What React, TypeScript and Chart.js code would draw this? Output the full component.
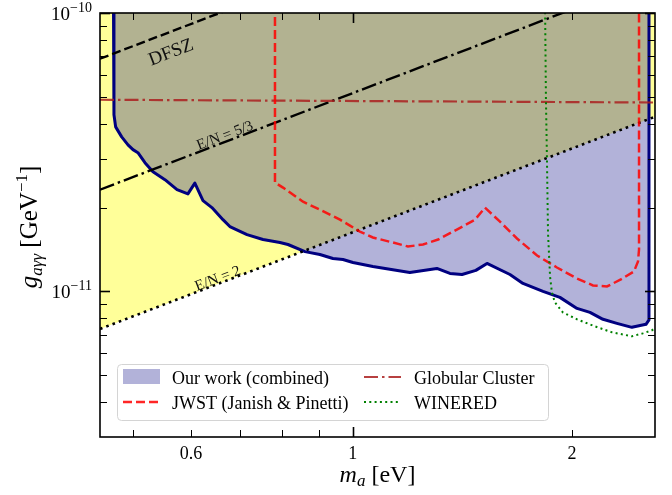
import { useEffect, useRef } from 'react';
import { Chart, registerables } from 'chart.js';
Chart.register(...registerables);

// ---------- data ----------
const X_MIN = 0.45;
const X_MAX = 2.6;
const Y_MIN = 3e-12;
const Y_MAX = 1e-10;

const ourWorkMass = [0.4695, 0.4703, 0.4728, 0.4819, 0.4916, 0.4994, 0.5073, 0.5187, 0.532, 0.5525, 0.574, 0.5941, 0.6073, 0.6231, 0.6409, 0.6637, 0.6783, 0.7161, 0.7532, 0.7947, 0.8151, 0.8601, 0.9017, 0.9396, 0.9698, 1.001, 1.066, 1.198, 1.305, 1.36, 1.413, 1.476, 1.529, 1.644, 1.713, 1.825, 1.925, 2.032, 2.117, 2.206, 2.305, 2.417, 2.527, 2.551, 2.551];
const ourWorkG = [1.2e-10, 4.31e-11, 3.9e-11, 3.59e-11, 3.36e-11, 3.23e-11, 3.15e-11, 2.9e-11, 2.69e-11, 2.52e-11, 2.32e-11, 2.24e-11, 2.45e-11, 2.12e-11, 2.0e-11, 1.81e-11, 1.71e-11, 1.6e-11, 1.536e-11, 1.498e-11, 1.474e-11, 1.39e-11, 1.357e-11, 1.313e-11, 1.302e-11, 1.27e-11, 1.229e-11, 1.17e-11, 1.209e-11, 1.16e-11, 1.15e-11, 1.19e-11, 1.26e-11, 1.15e-11, 1.068e-11, 1.0e-11, 9.52e-12, 8.69e-12, 8.41e-12, 7.94e-12, 7.68e-12, 7.43e-12, 7.62e-12, 7.9e-12, 1.2e-10];

const jwstMass = [0.7823, 0.7823, 0.8024, 0.8548, 0.9017, 0.9607, 0.9915, 1.023, 1.066, 1.136, 1.191, 1.249, 1.31, 1.39, 1.472, 1.519, 1.593, 1.681, 1.791, 1.907, 2.032, 2.137, 2.234, 2.334, 2.433, 2.464, 2.472, 2.472];
const jwstG = [1.2e-10, 2.46e-11, 2.36e-11, 2.1e-11, 1.967e-11, 1.81e-11, 1.724e-11, 1.641e-11, 1.562e-11, 1.498e-11, 1.45e-11, 1.474e-11, 1.536e-11, 1.668e-11, 1.81e-11, 2.0e-11, 1.78e-11, 1.549e-11, 1.346e-11, 1.219e-11, 1.113e-11, 1.051e-11, 1.042e-11, 1.104e-11, 1.18e-11, 1.28e-11, 1.414e-11, 1.2e-10];

const wineredMass = [1.836, 1.842, 1.848, 1.854, 1.866, 1.877, 1.895, 1.943, 2.032, 2.15, 2.27, 2.417, 2.502, 2.575, 2.62];
const wineredG = [1.2e-10, 4.88e-11, 2.97e-11, 1.627e-11, 1.132e-11, 9.92e-12, 9.13e-12, 8.41e-12, 7.94e-12, 7.49e-12, 7.13e-12, 6.9e-12, 7.07e-12, 7.25e-12, 7.5e-12];

const gcMass = [0.45, 2.6];
const gcG = [4.88e-11, 4.77e-11];

const dfszMass = [0.45, 2.6];
const dfszG = [6.85e-11, 3.96e-10];

const en53Mass = [0.45, 2.6];
const en53G = [2.32e-11, 1.34e-10];

const en2Mass = [0.45, 2.6];
const en2G = [7.33e-12, 4.24e-11];

const xTickValues = [0.5, 0.6, 0.7, 0.8, 0.9, 1, 2];
const xTickLabels = ['', '0.6', '', '', '', '1', '2'];
const xMajorTicks = [1];
const yMajorTicks = [1e-11, 1e-10];
const yMajorExponents = ['\u221211', '\u221210'];
const yMinorTicks = [4e-12, 5e-12, 6e-12, 7e-12, 8e-12, 9e-12, 2e-11, 3e-11, 4e-11, 5e-11, 6e-11, 7e-11, 8e-11, 9e-11];

const legendLabels = ['Our work (combined)', 'JWST (Janish & Pinetti)', 'Globular Cluster', 'WINERED'];

// label anchors (mass, coupling) for the line annotations
const lineLabels = [
  { text: 'DFSZ', m: 0.5633, g: 7.2e-11, size: 19, line: 'dfsz' },
  { text: 'E/N = 5/3', m: 0.668, g: 3.62e-11, size: 15, line: 'en53' },
  { text: 'E/N = 2', m: 0.6533, g: 1.11e-11, size: 15, line: 'en2' },
];

// ---------- styles ----------
const FONT = '"Liberation Serif", "DejaVu Serif", serif';
const YELLOW = 'rgb(255,255,153)';
const BLUE_FILL = 'rgba(0,0,128,0.3)';
const NAVY = '#000080';
const RED = 'rgba(255,0,0,0.85)';
const BROWN = 'rgba(170,30,30,0.85)';
const GREEN = 'rgb(0,128,0)';
const RED_DASH = [9, 4];
const BROWN_DASH = [14, 4, 2.5, 4];
const GREEN_DASH = [2, 3.3];

const pts = (xs: number[], ys: number[]) => xs.map((x, i) => ({ x, y: ys[i] }));

type Part = { t: string; size: number; italic?: boolean; dy?: number };
const fontOf = (p: Part) => `${p.italic ? 'italic ' : ''}${p.size}px ${FONT}`;
function drawRich(ctx: CanvasRenderingContext2D, parts: Part[], x: number, y: number, align: 'left' | 'center' | 'right') {
  let w = 0;
  for (const p of parts) { ctx.font = fontOf(p); w += ctx.measureText(p.t).width; }
  let cx = align === 'left' ? x : align === 'center' ? x - w / 2 : x - w;
  ctx.textAlign = 'left';
  ctx.textBaseline = 'alphabetic';
  for (const p of parts) {
    ctx.font = fontOf(p);
    ctx.fillText(p.t, cx, y + (p.dy || 0));
    cx += ctx.measureText(p.t).width;
  }
}

const overlay = {
  id: 'overlay',
  afterDraw(chart: any) {
    const { ctx, chartArea: a, scales } = chart;
    const xs = scales.x;
    const ys = scales.y;
    ctx.save();

    // line annotations
    const lines: Record<string, [number[], number[]]> = { dfsz: [dfszMass, dfszG], en53: [en53Mass, en53G], en2: [en2Mass, en2G] };
    for (const l of lineLabels) {
      const [mx, gy] = lines[l.line];
      const x1 = xs.getPixelForValue(mx[0]), y1 = ys.getPixelForValue(gy[0]);
      const x2 = xs.getPixelForValue(mx[1]), y2 = ys.getPixelForValue(gy[1]);
      const ang = Math.atan2(y2 - y1, x2 - x1);
      ctx.save();
      ctx.translate(xs.getPixelForValue(l.m), ys.getPixelForValue(l.g));
      ctx.rotate(ang);
      ctx.fillStyle = '#111';
      ctx.font = `${l.size}px ${FONT}`;
      ctx.textAlign = 'center';
      ctx.textBaseline = 'middle';
      ctx.fillText(l.text, 0, 0);
      ctx.restore();
    }

    // legend
    const lx = 117, ly = 364, lw = 431, lh = 56;
    ctx.beginPath();
    (ctx as any).roundRect(lx + 0.5, ly + 0.5, lw, lh, 4);
    ctx.fillStyle = 'rgba(255,255,255,0.85)';
    ctx.fill();
    ctx.strokeStyle = '#d4d4d4';
    ctx.lineWidth = 1;
    ctx.stroke();
    const row1 = 377, row2 = 402;
    ctx.fillStyle = BLUE_FILL;
    ctx.fillRect(123, row1 - 8, 37, 15);
    const handle = (x0: number, y: number, color: string, dash: number[], w: number) => {
      ctx.beginPath();
      ctx.setLineDash(dash);
      ctx.strokeStyle = color;
      ctx.lineWidth = w;
      ctx.moveTo(x0, y);
      ctx.lineTo(x0 + 37, y);
      ctx.stroke();
      ctx.setLineDash([]);
    };
    handle(123, row2, RED, RED_DASH, 2.5);
    handle(364, row1, BROWN, BROWN_DASH, 2.2);
    handle(364, row2, GREEN, GREEN_DASH, 2);
    ctx.fillStyle = '#000';
    ctx.font = `18px ${FONT}`;
    ctx.textAlign = 'left';
    ctx.textBaseline = 'alphabetic';
    ctx.fillText(legendLabels[0], 172, row1 + 6.5);
    ctx.fillText(legendLabels[1], 172, row2 + 6.5);
    ctx.fillText(legendLabels[2], 414, row1 + 6.5);
    ctx.fillText(legendLabels[3], 414, row2 + 6.5);

    // ticks (inward, all sides)
    ctx.strokeStyle = '#000';
    const tick = (x0: number, y0: number, x1: number, y1: number, w: number) => {
      ctx.beginPath();
      ctx.lineWidth = w;
      ctx.moveTo(x0, y0);
      ctx.lineTo(x1, y1);
      ctx.stroke();
    };
    xTickValues.forEach((v) => {
      const major = xMajorTicks.includes(v);
      const len = major ? 10 : 7;
      const w = major ? 1.6 : 1;
      const px = Math.round(xs.getPixelForValue(v)) + 0.5;
      tick(px, a.bottom, px, a.bottom - len, w);
      tick(px, a.top, px, a.top + len, w);
    });
    const yTicks = [...yMajorTicks.map((v) => [v, 1]), ...yMinorTicks.map((v) => [v, 0])];
    yTicks.forEach(([v, major]) => {
      const len = major ? 10 : 7;
      const w = major ? 1.6 : 1;
      const py = Math.round(ys.getPixelForValue(v)) + 0.5;
      tick(a.left, py, a.left + len, py, w);
      tick(a.right, py, a.right - len, py, w);
    });

    // frame
    ctx.lineWidth = 1.6;
    ctx.strokeRect(a.left, a.top, a.right - a.left, a.bottom - a.top);

    // tick labels
    ctx.fillStyle = '#000';
    ctx.font = `18px ${FONT}`;
    ctx.textAlign = 'center';
    ctx.textBaseline = 'alphabetic';
    xTickValues.forEach((v, i) => {
      if (!xTickLabels[i]) return;
      ctx.fillText(xTickLabels[i], xs.getPixelForValue(v), 459);
    });
    yMajorTicks.forEach((v, i) => {
      const py = ys.getPixelForValue(v);
      drawRich(ctx, [
        { t: '10', size: 19 },
        { t: yMajorExponents[i], size: 14, dy: -8 },
      ], 92, py + 6.5, 'right');
    });

    // axis titles
    drawRich(ctx, [
      { t: 'm', size: 24, italic: true },
      { t: 'a', size: 17, italic: true, dy: 4 },
      { t: ' [eV]', size: 24 },
    ], (a.left + a.right) / 2, 482, 'center');

    ctx.save();
    ctx.translate(37, (a.top + a.bottom) / 2 + 2);
    ctx.rotate(-Math.PI / 2);
    drawRich(ctx, [
      { t: 'g', size: 25, italic: true },
      { t: 'a\u03b3\u03b3', size: 17, italic: true, dy: 5 },
      { t: ' [GeV', size: 25 },
      { t: '\u22121', size: 17, dy: -10 },
      { t: ']', size: 25 },
    ], 0, 0, 'center');
    ctx.restore();

    ctx.restore();
  },
};

export default function App() {
  const ref = useRef<HTMLCanvasElement>(null);
  useEffect(() => {
    document.body.style.margin = '0';
    const line = (data: any, color: string, width: number, dash: number[], order: number, cap = 'butt') => ({
      data,
      showLine: true,
      borderColor: color,
      borderWidth: width,
      borderDash: dash,
      borderCapStyle: cap,
      pointRadius: 0,
      fill: false,
      tension: 0,
      clip: 0,
      order,
    });
    const chart = new Chart(ref.current as HTMLCanvasElement, {
      type: 'scatter',
      data: {
        datasets: [
          {
            data: pts(en2Mass, en2G), showLine: true, borderWidth: 0, borderColor: 'rgba(0,0,0,0)',
            backgroundColor: YELLOW, fill: 'end', pointRadius: 0, clip: 0, order: 20,
          } as any,
          {
            data: pts(ourWorkMass, ourWorkG), showLine: true, borderColor: NAVY, borderWidth: 3,
            backgroundColor: BLUE_FILL, fill: 'end', pointRadius: 0, clip: 0, order: 19,
            borderJoinStyle: 'round',
          } as any,
          line(pts(dfszMass, dfszG), '#000', 2.4, [9, 4], 10),
          line(pts(en53Mass, en53G), '#000', 2.4, [15, 4, 2.5, 4], 10),
          line(pts(en2Mass, en2G), '#000', 2.6, [2.6, 4.1], 10),
          line(pts(gcMass, gcG), BROWN, 2.2, BROWN_DASH, 9),
          line(pts(jwstMass, jwstG), RED, 2.5, RED_DASH, 8),
          line(pts(wineredMass, wineredG), GREEN, 2, GREEN_DASH, 7),
        ],
      },
      options: {
        responsive: false,
        animation: false,
        devicePixelRatio: 1,
        events: [],
        layout: { padding: { left: 0, right: 17, top: 13, bottom: 0 } },
        plugins: { legend: { display: false }, tooltip: { enabled: false } },
        scales: {
          x: {
            type: 'logarithmic', min: X_MIN, max: X_MAX,
            grid: { display: false }, border: { display: false },
            ticks: { display: false },
            afterFit: (s: any) => { s.height = 58; },
          },
          y: {
            type: 'logarithmic', min: Y_MIN, max: Y_MAX,
            grid: { display: false }, border: { display: false },
            ticks: { display: false },
            afterFit: (s: any) => { s.width = 100; },
          },
        },
      } as any,
      plugins: [overlay],
    });
    return () => chart.destroy();
  }, []);
  return <canvas ref={ref} width={672} height={495} style={{ display: 'block', width: 672, height: 495 }} />;
}
